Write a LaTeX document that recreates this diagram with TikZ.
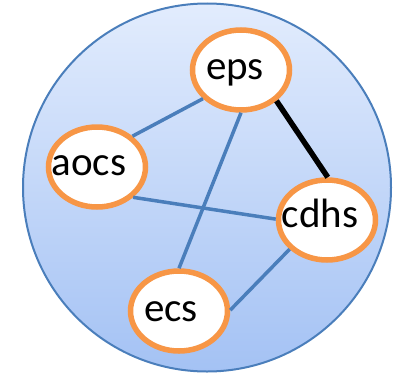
\documentclass[tikz,border=0pt]{standalone}
\usepackage{fontspec}
\setmainfont{Carlito}
\usetikzlibrary{shapes.geometric}
\definecolor{orng}{HTML}{F79646}
\definecolor{lnblue}{HTML}{4A7EBB}
\definecolor{topblue}{HTML}{E2ECFD}
\definecolor{botblue}{HTML}{A4C2F4}
\begin{document}
\begin{tikzpicture}[x=1pt,y=1pt,
  bub/.style={ellipse, draw=orng, fill=white, line width=5.5pt, minimum width=97pt, minimum height=80pt, inner sep=0pt},
  txt/.style={anchor=base, inner sep=0pt, font=\fontsize{41}{48}\selectfont},
  edge/.style={draw=lnblue, line width=3.5pt},
  blk/.style={draw=black, line width=5.5pt}]
\useasboundingbox (0,0) rectangle (395,-372);
\shade[top color=topblue, bottom color=botblue] (207,-187.5) circle[radius=184];
\draw[lnblue, line width=2pt] (207,-187.5) circle[radius=184];
\node[bub] (eps) at (241,-70) {};
\node[bub] (aocs) at (97,-167) {};
\node[bub] (cdhs) at (327,-220) {};
\node[bub] (ecs) at (179,-311) {};
\node[txt] (epsT) at ([xshift=-6pt,yshift=-9pt]eps.center) {eps};
\node[txt] (aocsT) at ([xshift=-8pt,yshift=-8pt]aocs.center) {aocs};
\node[txt] (cdhsT) at ([xshift=-7pt,yshift=-7pt]cdhs.center) {cdhs};
\node[txt] (ecsT) at ([xshift=-8pt,yshift=-10pt]ecs.center) {ecs};
\draw[edge] (eps.217) -- (aocs.41);
\draw[edge] (eps.270) -- (ecs.90);
\draw[edge] (aocs.320) -- (cdhs.179);
\draw[edge] (cdhs.218) -- (ecs.1);
\draw[blk] (eps.319) -- (cdhs.89);
\end{tikzpicture}
\end{document}
